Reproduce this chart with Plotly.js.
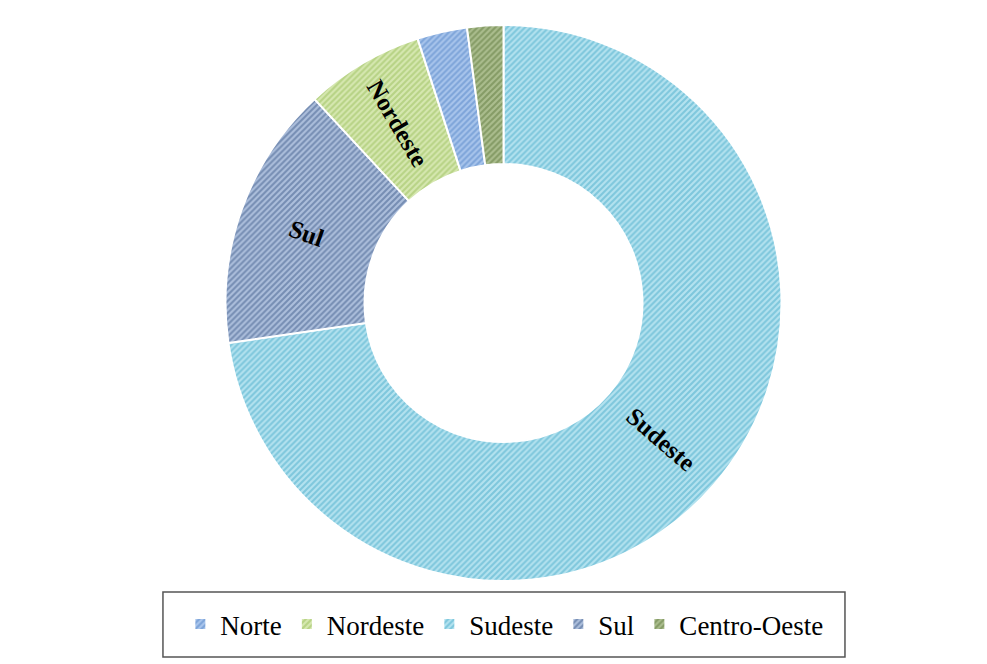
<!DOCTYPE html>
<html>
<head>
<meta charset="utf-8">
<script src="https://cdn.plot.ly/plotly-3.0.1.min.js"></script>
<style>
  body { margin: 0; background: #fff; }
  #graphDiv { width: 987px; height: 664px; }
</style>
</head>
<body>
<div id="graphDiv"></div>
<script>
// Dados (participação por região, %)
const regioes = ['Norte', 'Nordeste', 'Sudeste', 'Sul', 'Centro-Oeste'];
const participacao = [2.9, 6.9, 72.7, 15.4, 2.1];
// ordem em que as fatias aparecem no gráfico (horário a partir do topo)
const ordemGrafico = ['Sudeste', 'Sul', 'Nordeste', 'Norte', 'Centro-Oeste'];
// fatias pequenas sem rótulo
const semRotulo = ['Norte', 'Centro-Oeste'];

// Estilo
const corFundo = ['#a9c5ec', '#d6e8b1', '#b4e2ef', '#adbfdc', '#abbd8e'];
const corListra = ['#5283c6', '#98bd59', '#48abca', '#3f5c8a', '#5f7a3d'];

function gerarGrafico() {
    let W = 987, H = 664;
    let furo = 0.5;
    let idx = ordemGrafico.map(r => regioes.indexOf(r));
    let valores = idx.map(i => participacao[i]);

    let dominio = { x: [0.2285, 0.7918], y: [0.125, 0.9623] };

    // traço só para a legenda (fica coberto pelo de cima)
    let legenda = {
        type: 'pie',
        labels: regioes,
        values: participacao,
        sort: false,
        direction: 'clockwise',
        rotation: 0,
        hole: furo,
        domain: dominio,
        textinfo: 'none',
        hoverinfo: 'skip',
        marker: {
            colors: corFundo,
            line: { color: '#ffffff', width: 2 },
            pattern: { shape: '/', fillmode: 'overlay', fgcolor: corListra, size: 4.2, solidity: 0.5 }
        }
    };

    let rosca = {
        type: 'pie',
        labels: ordemGrafico,
        values: valores,
        textinfo: 'none',
        sort: false,
        direction: 'clockwise',
        rotation: 0,
        hole: furo,
        domain: dominio,
        showlegend: false,
        marker: {
            colors: idx.map(i => corFundo[i]),
            line: { color: '#ffffff', width: 2 },
            pattern: { shape: '/', fillmode: 'overlay', fgcolor: idx.map(i => corListra[i]), size: 4.2, solidity: 0.5 }
        }
    };

    // rótulos radiais no meio de cada fatia
    let cx = (dominio.x[0] + dominio.x[1]) / 2;
    let cy = (dominio.y[0] + dominio.y[1]) / 2;
    let R = Math.min((dominio.x[1] - dominio.x[0]) * W, (dominio.y[1] - dominio.y[0]) * H) / 2;
    let rMeio = R * (1 + furo) / 2;
    let total = valores.reduce((a, b) => a + b, 0);
    let acumulado = 0;
    let anotacoes = [];
    for (let i = 0; i < valores.length; i++) {
        let meio = (acumulado + valores[i] / 2) / total * 360;
        acumulado += valores[i];
        if (semRotulo.includes(ordemGrafico[i])) continue;
        let rad = meio * Math.PI / 180;
        let ang = meio < 180 ? meio - 90 : meio - 270;
        anotacoes.push({
            xref: 'paper', yref: 'paper',
            x: cx + rMeio * Math.sin(rad) / W,
            y: cy + rMeio * Math.cos(rad) / H,
            xanchor: 'center', yanchor: 'middle',
            text: ordemGrafico[i],
            textangle: ang,
            showarrow: false,
            font: { family: 'Liberation Serif', size: 25, color: '#000', weight: 'bold' }
        });
    }

    let layout = {
        width: W,
        height: H,
        margin: { l: 0, r: 0, t: 0, b: 0 },
        paper_bgcolor: '#ffffff',
        showlegend: true,
        legend: {
            orientation: 'h',
            x: 0.511,
            xanchor: 'center',
            y: 0.0595,
            yanchor: 'middle',
            font: { family: 'Liberation Serif', size: 27, color: '#000' },
            bgcolor: 'rgba(0,0,0,0)',
            borderwidth: 0
        },
        annotations: anotacoes,
        shapes: [{
            type: 'rect', xref: 'paper', yref: 'paper',
            x0: 0.1651, x1: 0.8561, y0: 0.0105, y1: 0.1084,
            line: { color: '#555555', width: 1.5 }
        }]
    };

    Plotly.newPlot('graphDiv', [legenda, rosca], layout, { displayModeBar: false, staticPlot: true });
}
gerarGrafico();
</script>
</body>
</html>
